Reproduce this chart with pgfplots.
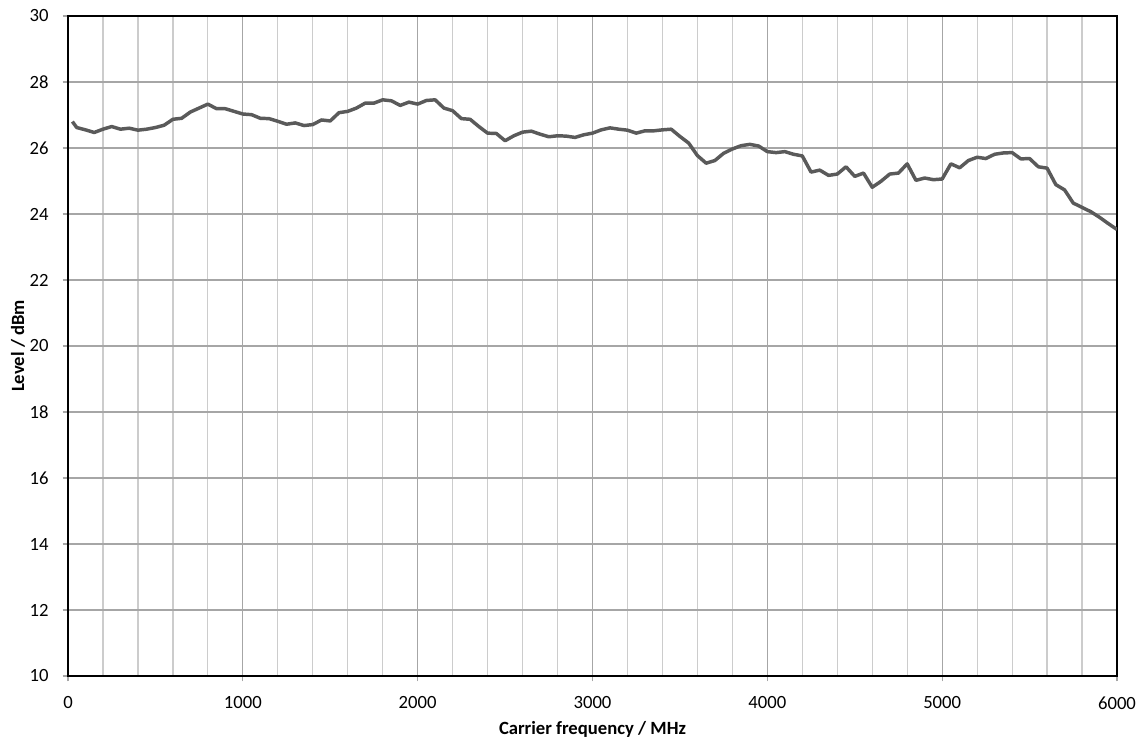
\documentclass[border=0pt]{standalone}
\usepackage{fontspec}
\setmainfont{Carlito}
\usepackage{pgfplots}
\pgfplotsset{compat=1.18}
\definecolor{lineg}{HTML}{5A5A5A}
\definecolor{majg}{HTML}{A6A6A6}
\definecolor{ming}{HTML}{CCCCCC}
\begin{document}
\begin{tikzpicture}
\useasboundingbox (-51pt,-47.25pt) rectangle (803.25pt,507pt);
\begin{axis}[
  at={(0,0)}, anchor=south west,
  scale only axis, width=786.75pt, height=495pt,
  xmin=0, xmax=6000, ymin=10, ymax=30,
  xtick={0,1000,...,6000}, ytick={10,12,...,30},
  minor xtick={200,400,...,5800},
  grid=both,
  major grid style={draw=majg, line width=0.9pt},
  minor grid style={draw=ming, line width=0.9pt},
  axis line style={black, line width=1.5pt},
  tick align=outside, tick pos=left,
  major tick length=4pt, minor tick length=0pt,
  tick style={majg, line width=0.8pt},
  /pgf/number format/assume math mode=true,
  /pgf/number format/set thousands separator={},
  ticklabel style={font=\fontsize{14}{16}\selectfont, text=black},
  xticklabel style={yshift=-8pt},
  yticklabel style={xshift=-7pt},
  xlabel={\textbf{Carrier frequency / MHz}},
  ylabel={\textbf{Level / dBm}},
  label style={font=\fontsize{14}{16}\selectfont},
  xlabel style={at={(axis description cs:0.5,0)}, anchor=center, yshift=-40pt},
  ylabel style={at={(axis description cs:0,0.5)}, anchor=center, yshift=37.5pt},
]
\addplot[lineg, line width=2.6pt, line join=round] table {
x y
25 26.80
50 26.62
100 26.55
150 26.47
200 26.57
250 26.65
300 26.57
350 26.60
400 26.54
450 26.57
500 26.62
550 26.69
600 26.87
650 26.90
700 27.09
750 27.21
800 27.33
850 27.19
900 27.19
950 27.11
1000 27.03
1050 27.01
1100 26.90
1150 26.89
1200 26.81
1250 26.72
1300 26.76
1350 26.68
1400 26.71
1450 26.85
1500 26.82
1550 27.07
1600 27.11
1650 27.21
1700 27.36
1750 27.36
1800 27.46
1850 27.43
1900 27.29
1950 27.39
2000 27.33
2050 27.44
2100 27.46
2150 27.21
2200 27.13
2250 26.89
2300 26.87
2350 26.65
2400 26.45
2450 26.44
2500 26.22
2550 26.37
2600 26.48
2650 26.51
2700 26.42
2750 26.34
2800 26.37
2850 26.36
2900 26.32
2950 26.40
3000 26.45
3050 26.55
3100 26.61
3150 26.57
3200 26.54
3250 26.45
3300 26.52
3350 26.52
3400 26.55
3450 26.57
3500 26.35
3550 26.15
3600 25.77
3650 25.54
3700 25.62
3750 25.84
3800 25.97
3850 26.07
3900 26.11
3950 26.06
4000 25.89
4050 25.86
4100 25.89
4150 25.81
4200 25.76
4250 25.27
4300 25.33
4350 25.17
4400 25.21
4450 25.43
4500 25.14
4550 25.24
4600 24.81
4650 24.99
4700 25.21
4750 25.24
4800 25.52
4850 25.02
4900 25.09
4950 25.04
5000 25.06
5050 25.52
5100 25.40
5150 25.62
5200 25.72
5250 25.68
5300 25.81
5350 25.85
5400 25.86
5450 25.67
5500 25.68
5550 25.43
5600 25.39
5650 24.89
5700 24.73
5750 24.33
5800 24.20
5850 24.07
5900 23.90
5950 23.71
6000 23.53
};
\end{axis}
\end{tikzpicture}
\end{document}
